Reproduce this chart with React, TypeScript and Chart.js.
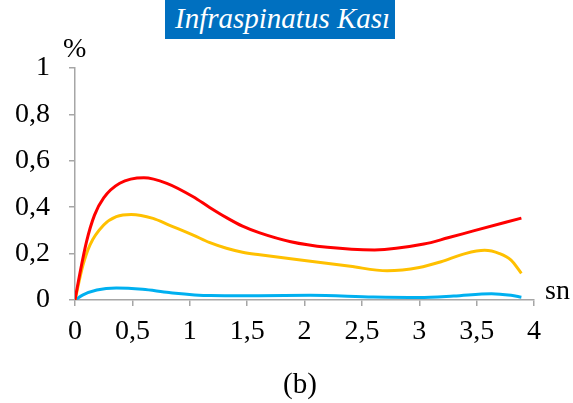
import React, { useEffect, useRef } from "react";
import { Chart, registerables } from "chart.js";

Chart.register(...registerables);

const xRed = [0, 0.04, 0.1, 0.17, 0.25, 0.39, 0.6, 0.8, 1.03, 1.17, 1.32, 1.46, 1.61, 1.88, 2.2, 2.61, 3.04, 3.25, 3.48, 3.89];
const yRed = [0, 0.108, 0.251, 0.366, 0.44, 0.503, 0.527, 0.503, 0.445, 0.4, 0.355, 0.318, 0.289, 0.251, 0.227, 0.216, 0.241, 0.268, 0.299, 0.353];

const xYellow = [0, 0.07, 0.13, 0.25, 0.36, 0.49, 0.68, 0.82, 1.03, 1.17, 1.32, 1.46, 1.61, 2.0, 2.4, 2.72, 3.0, 3.19, 3.4, 3.57, 3.7, 3.8, 3.89];
const yYellow = [0, 0.151, 0.237, 0.323, 0.359, 0.369, 0.352, 0.323, 0.28, 0.248, 0.223, 0.206, 0.195, 0.17, 0.145, 0.126, 0.14, 0.165, 0.2, 0.214, 0.2, 0.172, 0.115];

const xBlue = [0, 0.07, 0.19, 0.36, 0.59, 0.82, 1.18, 1.6, 2.05, 2.6, 3.0, 3.3, 3.63, 3.8, 3.89];
const yBlue = [0, 0.022, 0.043, 0.052, 0.046, 0.032, 0.019, 0.018, 0.02, 0.013, 0.011, 0.017, 0.027, 0.02, 0.012];

const titleText = "Infraspinatus Kası";
const yUnit = "%";
const xUnit = "sn";
const caption = "(b)";

const pts = (xs: number[], ys: number[]) => xs.map((x, i) => ({ x, y: ys[i] }));
const fmt = (v: number) => String(Number(v.toFixed(1))).replace(".", ",");

const FONT = "'Liberation Serif', 'Times New Roman', serif";
const AXIS = "#a6a6a6";

export default function App() {
  const ref = useRef<HTMLCanvasElement | null>(null);
  useEffect(() => {
    if (!ref.current) return;
    const line = (data: any, color: string) => ({ data, borderColor: color, borderWidth: 3, pointRadius: 0, cubicInterpolationMode: "monotone", fill: false });
    const chart = new Chart(ref.current, {
      type: "line",
      data: {
        datasets: [
          line(pts(xRed, yRed), "#ff0000"),
          line(pts(xYellow, yYellow), "#ffc000"),
          line(pts(xBlue, yBlue), "#00b0f0"),
        ],
      },
      options: {
        animation: false,
        responsive: true,
        maintainAspectRatio: false,
        layout: { padding: { left: 0, right: 39, top: 68, bottom: 0 } },
        plugins: { legend: { display: false }, tooltip: { enabled: false }, title: { display: false } },
        scales: {
          x: {
            type: "linear",
            min: 0,
            max: 4,
            afterFit: (s: any) => { s.height = 103; },
            ticks: { stepSize: 0.5, padding: 9, color: "#000", font: { family: FONT, size: 28 }, callback: (v: any) => fmt(Number(v)), maxRotation: 0 },
            grid: { drawOnChartArea: false, drawTicks: true, tickLength: 6, color: AXIS, lineWidth: 1.5 },
            border: { color: AXIS, width: 1.5 },
          },
          y: {
            min: 0,
            max: 1,
            afterFit: (s: any) => { s.width = 75; },
            ticks: { stepSize: 0.2, padding: 19, color: "#000", font: { family: FONT, size: 28 }, callback: (v: any) => fmt(Number(v)) },
            grid: { drawOnChartArea: false, drawTicks: true, tickLength: 6, color: AXIS, lineWidth: 1.5 },
            border: { color: AXIS, width: 1.5 },
          },
        },
      },
    } as any);
    return () => chart.destroy();
  }, []);

  const txt: React.CSSProperties = { position: "absolute", fontFamily: FONT, fontSize: 28, lineHeight: "28px", color: "#000", whiteSpace: "nowrap" };

  return (
    <div style={{ position: "fixed", left: 0, top: 0, width: 573, height: 403, background: "#fff" }}>
      <canvas ref={ref} style={{ width: "100%", height: "100%" }} />
      <div style={{ position: "absolute", left: 165, top: 0, width: 230, height: 39, background: "#0070c0", color: "#fff", fontFamily: FONT, fontStyle: "italic", fontSize: 29, lineHeight: "37px", paddingLeft: 10, boxSizing: "border-box", whiteSpace: "nowrap", overflow: "hidden" }}>{titleText}</div>
      <div style={{ ...txt, left: 63, top: 34 }}>{yUnit}</div>
      <div style={{ ...txt, left: 545, top: 276 }}>{xUnit}</div>
      <div style={{ ...txt, fontSize: 29, lineHeight: "29px", left: 250, width: 100, textAlign: "center", top: 369 }}>{caption}</div>
    </div>
  );
}
